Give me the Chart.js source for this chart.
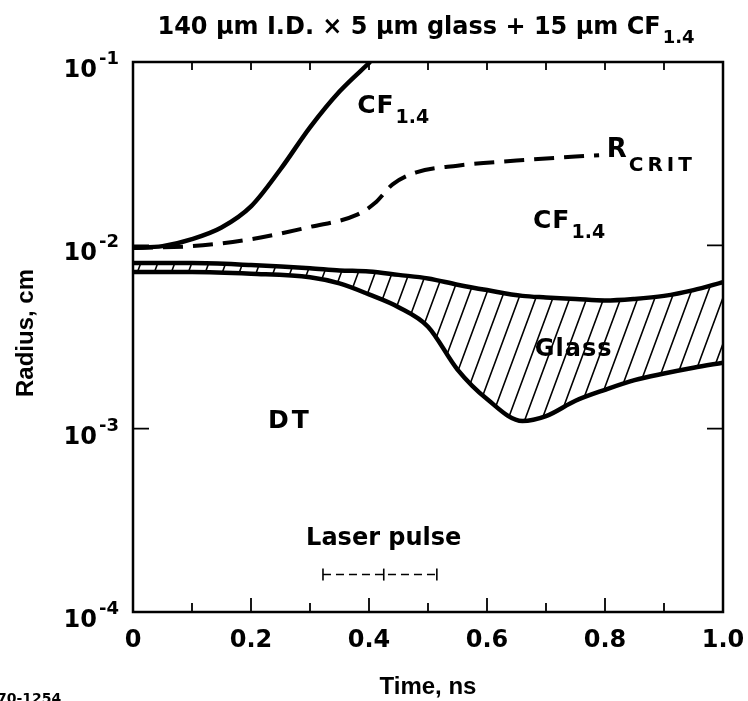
<!DOCTYPE html>
<html>
<head>
<meta charset="utf-8">
<script src="https://cdn.jsdelivr.net/npm/chart.js@4.4.1/dist/chart.umd.min.js"></script>
<style>
  html, body { margin: 0; padding: 0; background: #fff; }
  #chart { display: block; }
</style>
</head>
<body>
<canvas id="chart" width="748" height="701"></canvas>
<script>
const ctx = document.getElementById('chart').getContext('2d')

// ---- values (time in ns, radius in cm) ----
const cfTime = [0, 0.05, 0.1, 0.15, 0.2, 0.25, 0.3, 0.35, 0.402]
const cfRadius = [0.0097, 0.0099, 0.0108, 0.0125, 0.0163, 0.026, 0.044, 0.069, 0.1]

const rcritTime = [0, 0.1, 0.2, 0.3, 0.38, 0.41, 0.44, 0.48, 0.55, 0.65, 0.75, 0.79]
const rcritRadius = [0.0097, 0.0099, 0.0108, 0.0126, 0.0147, 0.0170, 0.0215, 0.0250, 0.0272, 0.0290, 0.0305, 0.0310]

const glassTime = [0, 0.1, 0.2, 0.3, 0.35, 0.4, 0.45, 0.5, 0.55, 0.6, 0.66, 0.7, 0.75, 0.8, 0.85, 0.9, 0.95, 1.0]
const glassOuter = [0.0080, 0.0080, 0.0078, 0.0075, 0.0073, 0.0072, 0.0069, 0.0066, 0.0061, 0.0057, 0.0053, 0.0052, 0.0051, 0.0050, 0.0051, 0.0053, 0.0057, 0.0063]
const glassInner = [0.00715, 0.00715, 0.0070, 0.0067, 0.0062, 0.0054, 0.0046, 0.0036, 0.0021, 0.00145, 0.00110, 0.00117, 0.00142, 0.00163, 0.00184, 0.00200, 0.00215, 0.00229]

const pulseTime = [0.322, 0.425, 0.515]
const pulseLevel = 1.6e-4

// ---- axis ticks ----
const xTicks = [0, 0.2, 0.4, 0.6, 0.8, 1.0]
const xTickLabels = ['0', '0.2', '0.4', '0.6', '0.8', '1.0']
const xMinor = [0.1, 0.3, 0.5, 0.7, 0.9]
const yTicks = [1e-4, 1e-3, 1e-2, 1e-1]
const yTickExps = ['-4', '-3', '-2', '-1']

const pts = (xs, ys) => xs.map((x, i) => ({ x, y: ys[i] }))
const font = size => 'bold ' + size + 'px "DejaVu Sans"'

//    ------- hachures du verre ----------
const hatch = (() => {
  const w = 17, h = 46
  const c = document.createElement('canvas')
  c.width = w; c.height = h
  const g = c.getContext('2d')
  g.fillStyle = '#fff'
  g.fillRect(0, 0, w, h)
  g.strokeStyle = '#000'
  g.lineWidth = 1.6
  g.beginPath()
  for (let k = -1; k <= 1; k++) {
    g.moveTo(k * w - w, h + h)
    g.lineTo(k * w + 2 * w, -h)
  }
  g.stroke()
  return ctx.createPattern(c, 'repeat')
})()

function subText(c, x, y, main, sub, size, subSize, drop, spacing) {
  c.font = font(size)
  c.textAlign = 'left'
  c.letterSpacing = '1px'
  c.fillText(main, x, y)
  const w = c.measureText(main).width
  c.font = font(subSize)
  c.letterSpacing = (spacing || 0) + 'px'
  c.fillText(sub, x + w + 1, y + drop)
  c.letterSpacing = '0px'
}

//    ------- cadre, graduations et textes ----------
const framePlugin = {
  id: 'frame',
  afterDatasetsDraw(chart) {
    const c = chart.ctx
    const { left, right, top, bottom } = chart.chartArea
    const sx = chart.scales.x, sy = chart.scales.y
    c.save()
    c.strokeStyle = '#000'
    c.fillStyle = '#000'
    c.lineWidth = 2.5
    c.strokeRect(left, top, right - left, bottom - top)

    c.lineWidth = 1.8
    c.beginPath()
    xTicks.concat(xMinor).forEach(t => {
      if (t <= 0 || t >= 1) return
      const px = sx.getPixelForValue(t)
      const major = xTicks.includes(t)
      c.moveTo(px, bottom); c.lineTo(px, bottom - (major ? 14 : 9))
      c.moveTo(px, top); c.lineTo(px, top + 8)
    })
    yTicks.slice(1, 3).forEach(v => {
      const py = sy.getPixelForValue(v)
      c.moveTo(left, py); c.lineTo(left + 16, py)
      c.moveTo(right, py); c.lineTo(right - 16, py)
    })
    c.stroke()

    // x tick labels
    c.font = font(24)
    c.textAlign = 'center'
    c.textBaseline = 'alphabetic'
    xTicks.forEach((t, i) => c.fillText(xTickLabels[i], sx.getPixelForValue(t), bottom + 35))

    // y tick labels 10^n
    yTicks.forEach((v, i) => {
      const py = sy.getPixelForValue(v)
      c.font = font(18)
      c.textAlign = 'right'
      c.fillText(yTickExps[i], left - 14, py + 2)
      const sw = c.measureText(yTickExps[i]).width
      c.font = font(24)
      c.fillText('10', left - 16 - sw, py + 15)
    })

    // axis titles
    c.font = 'bold 24px "Liberation Sans"'
    c.textAlign = 'center'
    c.fillText('Time, ns', (left + right) / 2, 694)
    c.save()
    c.translate(33, (top + bottom) / 2 - 4)
    c.rotate(-Math.PI / 2)
    c.fillText('Radius, cm', 0, 0)
    c.restore()

    // title
    c.font = font(24)
    const title = '140 \u03bcm I.D. \u00d7 5 \u03bcm glass + 15 \u03bcm CF'
    const tw = c.measureText(title).width
    c.font = font(18)
    const sw = c.measureText('1.4').width
    const tx = 425 - (tw + sw) / 2
    c.textAlign = 'left'
    c.font = font(24)
    c.fillText(title, tx, 34)
    c.font = font(18)
    c.fillText('1.4', tx + tw + 2, 43)

    // annotations
    const at = (t, r) => [sx.getPixelForValue(t), sy.getPixelForValue(r)]
    let p = at(0.38, 0.053)
    subText(c, p[0], p[1], 'CF', '1.4', 25, 19, 10)
    p = at(0.803, 0.0303)
    subText(c, p[0], p[1], 'R', 'CRIT', 26, 20, 14, 4)
    p = at(0.678, 0.0124)
    subText(c, p[0], p[1], 'CF', '1.4', 25, 19, 10)
    c.letterSpacing = '1px'
    c.font = font(24)
    c.textAlign = 'left'
    p = at(0.681, 0.00249)
    c.fillText('Glass', p[0], p[1])
    c.font = font(25)
    c.letterSpacing = '3px'
    p = at(0.229, 0.00101)
    c.fillText('DT', p[0], p[1])
    c.letterSpacing = '0px'
    c.font = font(24)
    c.textAlign = 'center'
    p = at(0.425, 2.32e-4)
    c.fillText('Laser pulse', p[0], p[1])

    c.font = font(14)
    c.textAlign = 'left'
    c.fillText('70-1254', -3, 703)
    c.restore()
  }
}

const datasets = [{
  label: 'CF1.4',
  data: pts(cfTime, cfRadius),
  borderWidth: 4.5
}, {
  label: 'R crit',
  data: pts(rcritTime, rcritRadius),
  borderWidth: 4,
  borderDash: [20, 10]
}, {
  label: 'Glass outer',
  data: pts(glassTime, glassOuter),
  borderWidth: 4.5
}, {
  label: 'Glass inner',
  data: pts(glassTime, glassInner),
  borderWidth: 4.5,
  fill: '-1',
  backgroundColor: hatch
}, {
  label: 'Laser pulse',
  data: pulseTime.map(t => ({ x: t, y: pulseLevel })),
  borderWidth: 1.5,
  borderDash: [8, 5],
  cubicInterpolationMode: 'default',
  tension: 0,
  pointStyle: 'line',
  pointRotation: 90,
  pointRadius: 6,
  pointBorderWidth: 1.6,
  pointBorderColor: '#000'
}]

const chart = new Chart(ctx, {
  type: 'line',
  data: { datasets },
  options: {
    responsive: false,
    animation: false,
    layout: { padding: { left: 133, top: 62, right: 25, bottom: 89 } },
    plugins: { legend: { display: false }, tooltip: { enabled: false } },
    elements: {
      point: { radius: 0 },
      line: { borderColor: '#000', cubicInterpolationMode: 'monotone', fill: false }
    },
    scales: {
      x: { type: 'linear', min: 0, max: 1, display: false },
      y: { type: 'logarithmic', min: 1e-4, max: 1e-1, display: false }
    }
  },
  plugins: [framePlugin]
})
</script>
</body>
</html>
